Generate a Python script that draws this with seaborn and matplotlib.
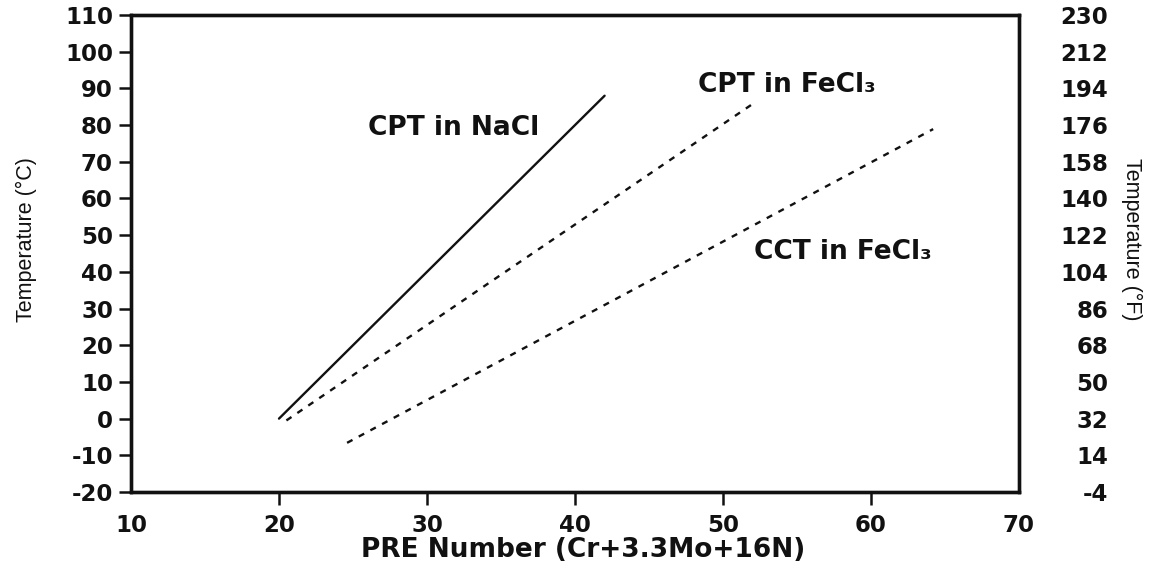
import matplotlib
matplotlib.use("Agg")
import matplotlib.pyplot as plt
import matplotlib.font_manager as fm
import numpy as np
import pandas as pd
import seaborn as sns

# Critical temperatures vs. pitting resistance equivalent (PRE)
series = ["CPT in NaCl", "CPT in FeCl₃", "CCT in FeCl₃"]
pre_nacl_cpt = [20.0, 42.0]
temp_nacl_cpt = [0.0, 88.0]
pre_fecl_cpt = [20.5, 52.2]
temp_fecl_cpt = [-0.5, 86.3]
pre_fecl_cct = [24.6, 64.2]
temp_fecl_cct = [-6.6, 78.9]

x_ticks = [10, 20, 30, 40, 50, 60, 70]
c_ticks = list(range(-20, 111, 10))
f_ticks = list(range(-4, 231, 18))
f_marked = [32, 68, 104, 140, 176, 212]

df = pd.concat([
    pd.DataFrame({"PRE": pre_nacl_cpt, "T": temp_nacl_cpt, "Series": series[0]}),
    pd.DataFrame({"PRE": pre_fecl_cpt, "T": temp_fecl_cpt, "Series": series[1]}),
    pd.DataFrame({"PRE": pre_fecl_cct, "T": temp_fecl_cct, "Series": series[2]}),
], ignore_index=True)

sns.set_theme(style="white")
names = {f.name for f in fm.fontManager.ttflist}
narrow = "Liberation Sans Narrow" if "Liberation Sans Narrow" in names else "Liberation Sans"
plt.rcParams["font.family"] = ["DejaVu Sans"]

INK = "#111111"
W, H = 1157, 564
fig = plt.figure(figsize=(W / 100, H / 100), dpi=100)
left, right, top, bottom = 131, 1019, 15, 492
ax = fig.add_axes([left / W, 1 - bottom / H, (right - left) / W, (bottom - top) / H])

sns.lineplot(data=df, x="PRE", y="T", hue="Series", style="Series",
             palette={s: INK for s in series},
             dashes={series[0]: "", series[1]: (2.6, 3.0), series[2]: (2.6, 3.0)},
             linewidth=1.7, legend=False, ax=ax)

ax.set_xlim(10, 70)
ax.set_ylim(-20, 110)
ax.set_xticks(x_ticks)
ax.set_yticks(c_ticks)
for sp in ax.spines.values():
    sp.set_linewidth(2.4)
    sp.set_color(INK)

tick_font = dict(family="DejaVu Sans", weight="bold", size=16.5)
ax.tick_params(axis="both", direction="out", length=9, width=1.8, color=INK,
               left=True, bottom=True, labelcolor=INK)
ax.tick_params(axis="x", pad=7)
ax.tick_params(axis="y", pad=4)
ax.set_xticklabels([str(v) for v in x_ticks], **tick_font)
ax.set_yticklabels([str(v) for v in c_ticks], **tick_font)
# end ticks sit on the frame; hide their marks
for t in ax.yaxis.get_major_ticks():
    if t.get_loc() in (-20, 110):
        t.tick1line.set_visible(False)
for t in ax.xaxis.get_major_ticks():
    if t.get_loc() in (10, 70):
        t.tick1line.set_visible(False)

ax.set_xlabel("PRE Number (Cr+3.3Mo+16N)", fontsize=19, weight="bold",
              family="DejaVu Sans", color=INK)
ax.xaxis.set_label_coords(0.509, -0.094)
ax.set_ylabel("Temperature (°C)", fontsize=15.5, family=[narrow, "DejaVu Sans"], color=INK)
ax.yaxis.set_label_coords(-0.106, 0.53)

# Fahrenheit scale on the right
ax2 = ax.twinx()
ax2.set_ylim(-4, 230)
ax2.set_yticks(f_ticks)
ax2.set_yticklabels([str(v) for v in f_ticks], ha="right", **tick_font)
ax2.tick_params(axis="y", which="major", length=0, pad=64, labelcolor=INK)
ax2.set_yticks(f_marked, minor=True)
ax2.tick_params(axis="y", which="minor", length=12, width=1.8, color=INK,
                direction="out", right=True)
ax2.set_ylabel("Temperature (°F)", fontsize=15.5, rotation=270,
               family=[narrow, "DejaVu Sans"], color=INK)
ax2.yaxis.set_label_coords(1.139, 0.53)
for sp in ax2.spines.values():
    sp.set_linewidth(2.4)
    sp.set_color(INK)
ax2.grid(False)

lab = dict(fontsize=19, weight="bold", ha="center", va="center", color=INK,
           family="DejaVu Sans")
ax.text(31.8, 79.2, series[0], **lab)
ax.text(54.3, 90.9, series[1], **lab)
ax.text(58.1, 45.4, series[2], **lab)

fig.savefig("out.png", dpi=100, facecolor="white")
